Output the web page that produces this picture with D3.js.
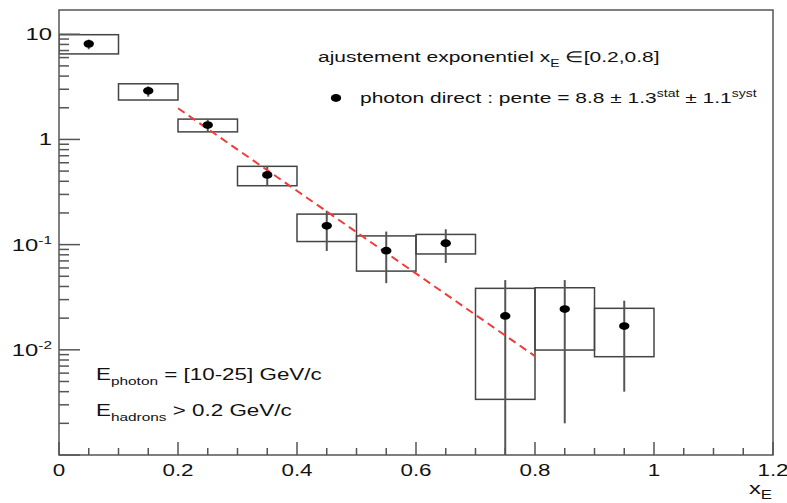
<!DOCTYPE html>
<html>
<head>
<meta charset="utf-8">
<script src="https://cdn.jsdelivr.net/npm/d3@7"></script>
<style>
  body { margin: 0; background: #fff; }
  text { font-family: "Liberation Sans", Arial, sans-serif; fill: #111; }
</style>
</head>
<body>
<div id="chart"></div>
<script>
// bins in x_E (centre), points and errors
var xCenters = [0.05, 0.15, 0.25, 0.35, 0.45, 0.55, 0.65, 0.75, 0.85, 0.95]
var binHalf = 0.05
var yValues = [8.1, 2.9, 1.37, 0.46, 0.151, 0.0875, 0.103, 0.021, 0.0244, 0.0168]
var statLow = [7.2, 2.55, 1.2, 0.36, 0.087, 0.043, 0.067, 0.0005, 0.0020, 0.0040]
var statHigh = [8.9, 3.2, 1.55, 0.56, 0.21, 0.133, 0.14, 0.046, 0.046, 0.0293]
var systLow = [6.5, 2.37, 1.18, 0.363, 0.107, 0.056, 0.0815, 0.00338, 0.00995, 0.0086]
var systHigh = [9.9, 3.38, 1.56, 0.555, 0.195, 0.121, 0.125, 0.0384, 0.0389, 0.0248]

// exponential fit between 0.2 and 0.8
var fitX = [0.2, 0.8]
var fitY = [1.98, 0.0087]

var xTicks = [0, 0.2, 0.4, 0.6, 0.8, 1, 1.2]
var xTickLabels = ["0", "0.2", "0.4", "0.6", "0.8", "1", "1.2"]
var yTicks = [10, 1, 0.1, 0.01]
var yTickBase = ["10", "1", "10", "10"]
var yTickExp = ["", "", "-1", "-2"]

var W = 787, H = 503
var margin = { top: 10, right: 14, bottom: 48, left: 59 }
var width = W - margin.left - margin.right
var height = H - margin.top - margin.bottom
var sx = 1.4 // picture is stretched sideways

var svg = d3.select("#chart").append("svg")
  .attr("width", W)
  .attr("height", H)
  .append("g")
  .attr("transform", "translate(" + margin.left + "," + margin.top + ")")

var x = d3.scaleLinear().domain([0, 1.2]).range([0, width])
var y = d3.scaleLog().domain([0.001, 17]).range([height, 0])

var data = xCenters.map(function (d, i) {
  return { x: d, y: yValues[i], sl: statLow[i], sh: statHigh[i], yl: systLow[i], yh: systHigh[i] }
})

svg.append("clipPath").attr("id", "clip")
  .append("rect").attr("width", width).attr("height", height)

var plot = svg.append("g").attr("clip-path", "url(#clip)")

// systematic boxes
plot.selectAll(".syst").data(data).enter().append("rect")
  .attr("class", "syst")
  .attr("x", function (d) { return x(d.x - binHalf) })
  .attr("width", function (d) { return x(d.x + binHalf) - x(d.x - binHalf) })
  .attr("y", function (d) { return y(d.yh) })
  .attr("height", function (d) { return y(d.yl) - y(d.yh) })
  .attr("fill", "none")
  .attr("stroke", "#444")
  .attr("stroke-width", 1.5)

// stat error bars
plot.selectAll(".stat").data(data).enter().append("line")
  .attr("class", "stat")
  .attr("x1", function (d) { return x(d.x) })
  .attr("x2", function (d) { return x(d.x) })
  .attr("y1", function (d) { return y(d.sh) })
  .attr("y2", function (d) { return y(d.sl) })
  .attr("stroke", "#555")
  .attr("stroke-width", 2)

// fit line
plot.append("path")
  .datum(fitX.map(function (d, i) { return [d, fitY[i]] }))
  .attr("d", d3.line().x(function (d) { return x(d[0]) }).y(function (d) { return y(d[1]) }))
  .attr("fill", "none")
  .attr("stroke", "#f23a3a")
  .attr("stroke-width", 2)
  .attr("stroke-dasharray", "8,5")

// points
plot.selectAll(".pt").data(data).enter().append("ellipse")
  .attr("class", "pt")
  .attr("cx", function (d) { return x(d.x) })
  .attr("cy", function (d) { return y(d.y) })
  .attr("rx", 5.2)
  .attr("ry", 3.9)
  .attr("fill", "#000")

// frame
svg.append("rect")
  .attr("width", width).attr("height", height)
  .attr("fill", "none").attr("stroke", "#555").attr("stroke-width", 1.5)

// x axis ticks (inside, upward)
var xMinor = d3.range(0, 1.2001, 0.05)
svg.selectAll(".xtick").data(xMinor).enter().append("line")
  .attr("x1", function (d) { return x(d) }).attr("x2", function (d) { return x(d) })
  .attr("y1", height)
  .attr("y2", function (d, i) { return height - (i % 4 == 0 ? 13 : 7) })
  .attr("stroke", "#555").attr("stroke-width", 1.5)

svg.selectAll(".xlab").data(xTicks).enter().append("text")
  .attr("transform", function (d) { return "translate(" + x(d) + "," + (height + 21) + ") scale(" + sx + ",1)" })
  .attr("text-anchor", "middle")
  .style("font-size", "16px")
  .text(function (d, i) { return xTickLabels[i] })

// y axis ticks (inside, to the right)
var yMinor = []
;[0.001, 0.01, 0.1, 1, 10].forEach(function (dec) {
  for (var k = 1; k < 10; k++) {
    if (dec * k <= 17) yMinor.push({ v: dec * k, major: k == 1 })
  }
})
svg.selectAll(".ytick").data(yMinor).enter().append("line")
  .attr("x1", 0).attr("x2", function (d) { return d.major ? 21 : 10 })
  .attr("y1", function (d) { return y(d.v) }).attr("y2", function (d) { return y(d.v) })
  .attr("stroke", "#555").attr("stroke-width", 1.5)

var ylab = svg.selectAll(".ylab").data(yTicks).enter().append("text")
  .attr("transform", function (d) { return "translate(-7," + (y(d) + 6) + ") scale(" + sx + ",1)" })
  .attr("text-anchor", "end")
  .style("font-size", "17px")
ylab.append("tspan").text(function (d, i) { return yTickBase[i] })
ylab.append("tspan").attr("dy", -7).style("font-size", "11px").text(function (d, i) { return yTickExp[i] })

// text with sub/superscripts: parts = [[text, kind], ...]
function richText(px, py, parts, size, anchor) {
  var t = svg.append("text")
    .attr("transform", "translate(" + px + "," + py + ") scale(" + sx + ",1)")
    .attr("text-anchor", anchor || "start")
    .style("font-size", size + "px")
  var shift = 0
  parts.forEach(function (p) {
    var target = p[1] == "sub" ? 5 : p[1] == "sup" ? -6 : 0
    t.append("tspan")
      .attr("dy", target - shift)
      .style("font-size", p[1] ? Math.round(size * 0.68) + "px" : size + "px")
      .text(p[0])
    shift = target
  })
  return t
}

richText(318 - margin.left, 62 - margin.top, [["ajustement exponentiel x"], ["E", "sub"], [" \u2208[0.2,0.8]"]], 15)
svg.append("ellipse")
  .attr("cx", 336 - margin.left).attr("cy", 98 - margin.top)
  .attr("rx", 5.2).attr("ry", 3.9).attr("fill", "#000")
richText(360 - margin.left, 103 - margin.top, [["photon direct : pente = 8.8 \u00b1 1.3"], ["stat", "sup"], [" \u00b1 1.1"], ["syst", "sup"]], 15)

richText(96 - margin.left, 380 - margin.top, [["E"], ["photon", "sub"], [" = [10-25] GeV/c"]], 16)
richText(96 - margin.left, 416 - margin.top, [["E"], ["hadrons", "sub"], [" > 0.2 GeV/c"]], 16)

// x axis title
richText(772 - margin.left, 494 - margin.top, [["x"], ["E", "sub"]], 17, "end")
</script>
</body>
</html>
